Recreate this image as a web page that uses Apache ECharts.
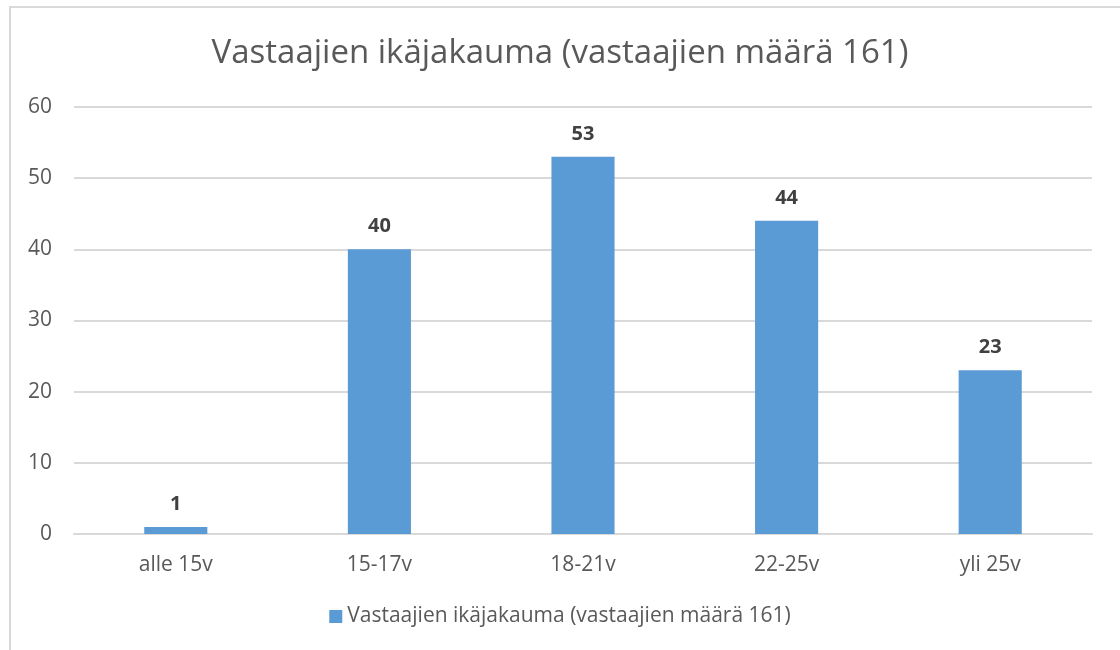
<!DOCTYPE html>
<html>
<head>
<meta charset="utf-8">
<script src="https://cdn.jsdelivr.net/npm/echarts@6/dist/echarts.min.js"></script>
<style>
  html, body { margin: 0; padding: 0; background: #fff; overflow: hidden; }
  #frame {
    position: absolute; left: 9px; top: 6px; width: 1120px; height: 650px;
    border-left: 2px solid #d9d9d9; border-top: 2px solid #d9d9d9;
  }
  #chart { position: absolute; left: 0; top: 0; width: 1120px; height: 650px; }
</style>
</head>
<body>
<div id="frame"></div>
<div id="chart"></div>
<script>
const categories = ['alle 15v', '15-17v', '18-21v', '22-25v', 'yli 25v'];
const values = [1, 40, 53, 44, 23];
const seriesName = 'Vastaajien ikäjakauma (vastaajien määrä 161)';
const titleText = 'Vastaajien ikäjakauma (vastaajien määrä 161)';

const myChart = echarts.init(document.getElementById('chart'));
const fontFamily = '"Open Sans", "Liberation Sans", sans-serif';
const option = {
    backgroundColor: 'transparent',
    title: {
        text: titleText,
        left: 'center',
        top: 32,
        textStyle: {
            color: '#595959',
            fontSize: 33,
            fontWeight: 'normal',
            fontFamily: fontFamily,
        },
    },
    legend: {
        bottom: 18,
        left: 'center',
        icon: 'rect',
        itemWidth: 13,
        itemHeight: 13,
        itemGap: 6,
        textStyle: { color: '#595959', fontSize: 21, fontFamily: fontFamily },
    },
    grid: {
        left: 74,
        right: 28,
        top: 107,
        bottom: 116,
    },
    xAxis: {
        type: 'category',
        data: categories,
        axisLine: { lineStyle: { color: '#d9d9d9', width: 2 } },
        axisTick: { show: false },
        axisLabel: { color: '#595959', fontSize: 21, margin: 21, fontFamily: fontFamily },
    },
    yAxis: {
        type: 'value',
        min: 0,
        max: 60,
        interval: 10,
        axisLine: { show: false },
        axisTick: { show: false },
        splitLine: { lineStyle: { color: '#d9d9d9', width: 2 } },
        axisLabel: { color: '#595959', fontSize: 21, margin: 22, fontFamily: fontFamily },
    },
    series: [
        {
            name: seriesName,
            type: 'bar',
            data: values,
            barWidth: '31%',
            itemStyle: { color: '#5b9bd5' },
            label: {
                show: true,
                position: 'top',
                distance: 13,
                color: '#404040',
                fontSize: 20,
                fontWeight: 'bold',
                fontFamily: fontFamily,
            },
        },
    ],
};
myChart.setOption(option);
</script>
</body>
</html>
